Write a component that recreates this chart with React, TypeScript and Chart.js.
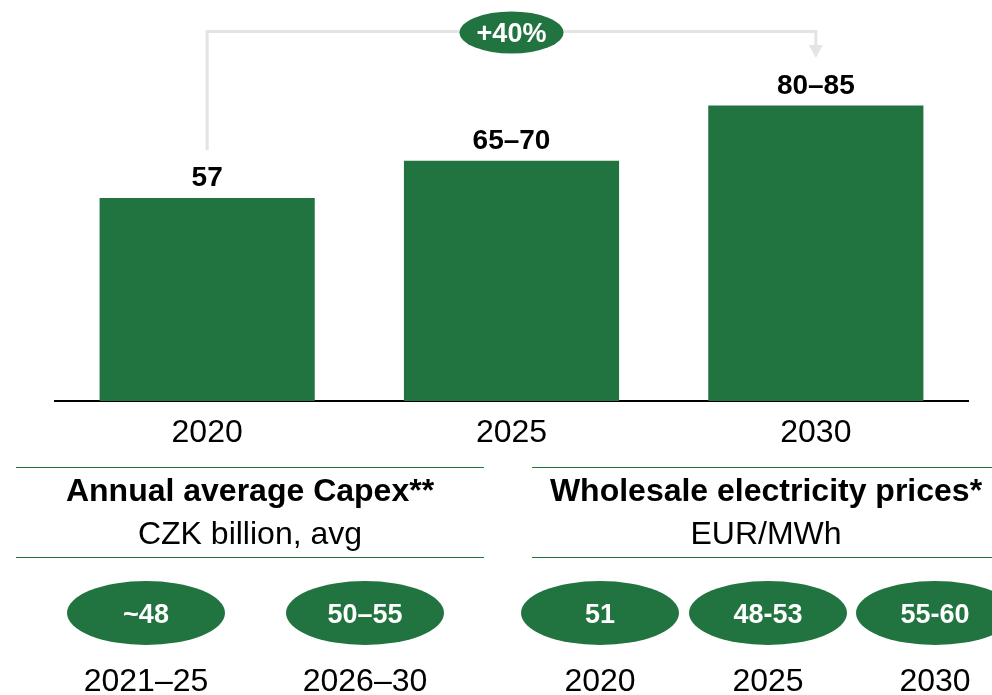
import React, { useEffect, useRef } from "react";
import { Chart, registerables } from "chart.js";

Chart.register(...registerables);

// ---- data ----
const years = ["2020", "2025", "2030"];
const revenue = [57, 67.5, 83];
const revenueLabels = ["57", "65–70", "80–85"];
const growthLabel = "+40%";

const capexTitle = "Annual average Capex**";
const capexUnit = "CZK billion, avg";
const capexValues = ["~48", "50–55"];
const capexPeriods = ["2021–25", "2026–30"];

const priceTitle = "Wholesale electricity prices*";
const priceUnit = "EUR/MWh";
const priceValues = ["51", "48-53", "55-60"];
const priceYears = ["2020", "2025", "2030"];

// ---- style / layout ----
const GREEN = "#217440";
const GREY = "#e4e4e4";
const FONT = '"Liberation Sans", Arial, Helvetica, sans-serif';
const W = 992;
const H = 695;

const capexCenters = [146, 365];
const priceCenters = [600, 768, 935];
const leftPanel = { x1: 16, x2: 484, cx: 250 };
const rightPanel = { x1: 532, x2: 1000, cx: 766 };

function pill(ctx: CanvasRenderingContext2D, cx: number, cy: number, rx: number, ry: number, text: string, size: number) {
  ctx.fillStyle = GREEN;
  ctx.beginPath();
  ctx.ellipse(cx, cy, rx, ry, 0, 0, Math.PI * 2);
  ctx.fill();
  ctx.fillStyle = "#ffffff";
  ctx.font = `bold ${size}px ${FONT}`;
  ctx.textAlign = "center";
  ctx.textBaseline = "alphabetic";
  ctx.fillText(text, cx, cy + size * 0.716 / 2);
}

const overlay = {
  id: "overlay",
  afterDatasetsDraw(chart: any) {
    const ctx: CanvasRenderingContext2D = chart.ctx;
    const bars = chart.getDatasetMeta(0).data;
    ctx.save();

    // value labels
    ctx.fillStyle = "#000";
    ctx.font = `bold 28px ${FONT}`;
    ctx.textAlign = "center";
    ctx.textBaseline = "alphabetic";
    bars.forEach((b: any, i: number) => ctx.fillText(revenueLabels[i], b.x, b.y - 12));

    // growth bracket
    const x0 = bars[0].x;
    const x2 = bars[bars.length - 1].x;
    const topY = 31.5;
    ctx.strokeStyle = GREY;
    ctx.lineWidth = 3;
    ctx.beginPath();
    ctx.moveTo(x0, bars[0].y - 48);
    ctx.lineTo(x0, topY);
    ctx.lineTo(x2, topY);
    ctx.lineTo(x2, 46);
    ctx.stroke();
    ctx.fillStyle = GREY;
    ctx.beginPath();
    ctx.moveTo(x2 - 7, 45);
    ctx.lineTo(x2 + 7, 45);
    ctx.lineTo(x2, 58);
    ctx.closePath();
    ctx.fill();
    pill(ctx, (x0 + x2) / 2, 32.5, 52, 21, growthLabel, 27);

    // lower panels
    ctx.strokeStyle = GREEN;
    ctx.lineWidth = 1;
    [leftPanel, rightPanel].forEach((p) => {
      ctx.beginPath();
      ctx.moveTo(p.x1, 467.5);
      ctx.lineTo(p.x2, 467.5);
      ctx.moveTo(p.x1, 557.5);
      ctx.lineTo(p.x2, 557.5);
      ctx.stroke();
    });

    ctx.fillStyle = "#000";
    ctx.textAlign = "center";
    ctx.textBaseline = "alphabetic";
    ctx.font = `bold 32px ${FONT}`;
    ctx.fillText(capexTitle, leftPanel.cx, 501);
    ctx.fillText(priceTitle, rightPanel.cx, 501);
    ctx.font = `32px ${FONT}`;
    ctx.fillText(capexUnit, leftPanel.cx, 544);
    ctx.fillText(priceUnit, rightPanel.cx, 544);

    capexValues.forEach((v, i) => pill(ctx, capexCenters[i], 613, 79, 32, v, 27));
    priceValues.forEach((v, i) => pill(ctx, priceCenters[i], 613, 79, 32, v, 27));

    ctx.fillStyle = "#000";
    ctx.font = `32px ${FONT}`;
    ctx.textAlign = "center";
    ctx.textBaseline = "alphabetic";
    capexPeriods.forEach((t, i) => ctx.fillText(t, capexCenters[i], 691));
    priceYears.forEach((t, i) => ctx.fillText(t, priceCenters[i], 691));

    ctx.restore();
  },
};

export default function App() {
  const ref = useRef<HTMLCanvasElement | null>(null);
  useEffect(() => {
    if (!ref.current) return;
    const chart = new Chart(ref.current, {
      type: "bar",
      data: {
        labels: years,
        datasets: [
          {
            data: revenue,
            backgroundColor: GREEN,
            borderWidth: 0,
            categoryPercentage: 1,
            barPercentage: 0.707,
          },
        ],
      },
      options: {
        responsive: false,
        animation: false,
        devicePixelRatio: 1,
        layout: { padding: { left: 55, right: 24, top: 45, bottom: 0 } },
        plugins: { legend: { display: false }, tooltip: { enabled: false } },
        scales: {
          x: {
            grid: { display: false, drawTicks: false },
            border: { display: true, color: "#000", width: 2 },
            ticks: { color: "#000", font: { family: FONT, size: 32 }, padding: 13 },
            afterFit: (scale: any) => {
              scale.height = 294;
            },
          },
          y: { display: false, min: 0, max: 100 },
        },
      },
      plugins: [overlay],
    });
    return () => chart.destroy();
  }, []);
  return (
    <div style={{ position: "absolute", left: 0, top: 0, width: W, height: H, background: "#fff" }}>
      <canvas ref={ref} width={W} height={H} style={{ display: "block", width: W, height: H }} />
    </div>
  );
}
